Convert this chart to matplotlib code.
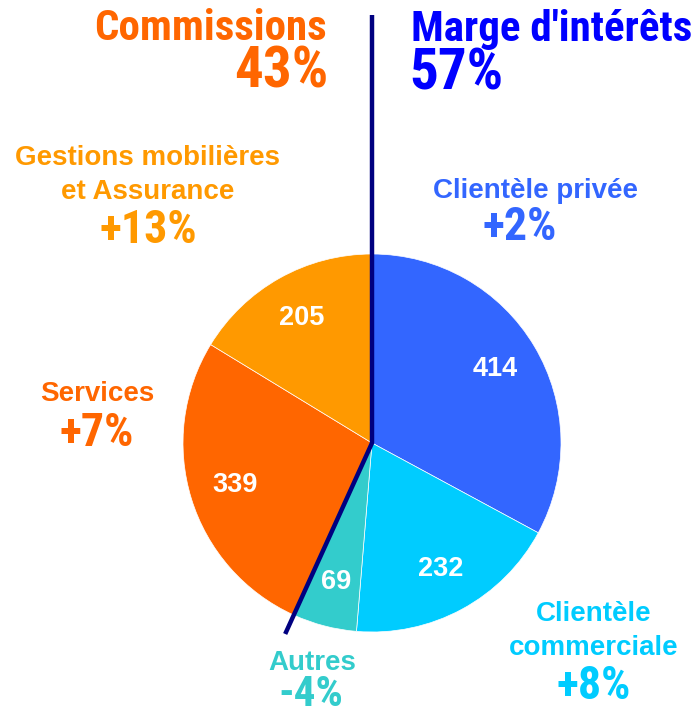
import matplotlib
matplotlib.use("Agg")
import matplotlib.pyplot as plt
import numpy as np
from matplotlib import font_manager

# ---- data -------------------------------------------------------------
segments = ["Clientèle privée", "Clientèle\ncommerciale", "Autres",
            "Services", "Gestions mobilières\net Assurance"]
values   = [414, 232, 69, 339, 205]
growth   = ["+2%", "+8%", "-4%", "+7%", "+13%"]
groups   = ["Marge d'intérêts", "Commissions"]
n_interest = 3          # first three segments make up the interest margin

BLUE   = "#3366FF"
CYAN   = "#00CCFF"
TEAL   = "#33CCCC"
ORANGE = "#FF6600"
LORANGE = "#FF9900"
NAVY   = "#000080"
colors = [BLUE, CYAN, TEAL, ORANGE, LORANGE]

names = {f.name for f in font_manager.fontManager.ttflist}
BOLD = "Liberation Sans" if "Liberation Sans" in names else "DejaVu Sans"
NARROW = next((f for f in ("Roboto Condensed", "Archivo Narrow", "PT Sans Narrow")
               if f in names), BOLD)

W, H = 691, 713
fig = plt.figure(figsize=(W / 100, H / 100), dpi=100)
ax = fig.add_axes([0, 0, 1, 1])

def Y(y_img):
    return H - y_img

cx, cy, r = 372, Y(443), 189

wedges, _ = ax.pie(values, colors=colors, startangle=90, counterclock=False,
                   center=(cx, cy), radius=r, frame=True,
                   wedgeprops=dict(edgecolor="white", linewidth=0.5))
ax.set_xlim(0, W)
ax.set_ylim(0, H)
ax.set_aspect("equal")
ax.axis("off")

# value labels inside wedges
for w, v in zip(wedges, values):
    ang = np.deg2rad((w.theta1 + w.theta2) / 2)
    ax.text(cx + 0.76 * r * np.cos(ang), cy + 0.76 * r * np.sin(ang), str(v),
            ha="center", va="center", color="white", fontsize=19.5,
            fontweight="bold", family=BOLD)

# divider between interest margin and commissions
tot = sum(values)
b = np.deg2rad(90 - 360 * sum(values[:n_interest]) / tot)
ax.plot([cx, cx, cx + 1.11 * r * np.cos(b)],
        [Y(15), cy, cy + 1.11 * r * np.sin(b)],
        color=NAVY, lw=3.2, solid_capstyle="butt", zorder=5)

# group headers
share_int = round(100 * sum(values[:n_interest]) / tot)
share_com = 100 - share_int
hdr = dict(fontweight="bold", family=NARROW, va="center")
ax.text(327, Y(28), groups[1], ha="right", color=ORANGE, fontsize=31, **hdr)
ax.text(328, Y(72), f"{share_com}%", ha="right", color=ORANGE, fontsize=41, **hdr)
ax.text(411, Y(30), groups[0], ha="left", color="#0000FF", fontsize=31, **hdr)
ax.text(409, Y(74), f"{share_int}%", ha="left", color="#0000FF", fontsize=41, **hdr)

# segment captions: (name x, name y, pct x, pct y, pct size) in image pixels
spots = [(536, 191, 520, 227, 33),
         (594, 631, 594, 686, 33),
         (312, 663, 311, 694, 31),
         (97, 394, 97, 433, 33),
         (148, 175, 148, 230, 33)]
for nm, g, c, (nx, ny, px, py, fs) in zip(segments, growth, colors, spots):
    ax.text(nx, Y(ny), nm, ha="center", va="center", color=c, fontsize=20,
            fontweight="bold", family=BOLD, linespacing=1.38)
    ax.text(px, Y(py), g, ha="center", va="center", color=c, fontsize=fs,
            fontweight="bold", family=NARROW)

fig.savefig("out.png", dpi=100)
